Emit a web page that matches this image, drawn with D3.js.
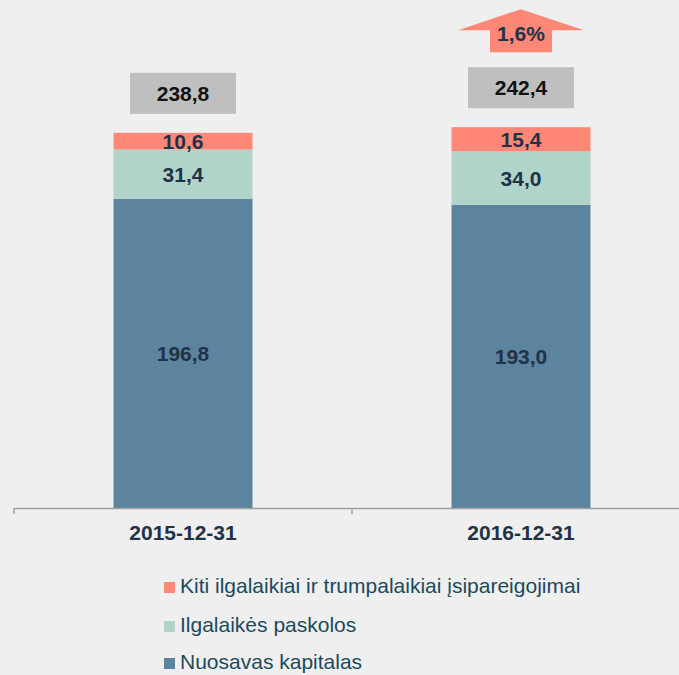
<!DOCTYPE html>
<html>
<head>
<meta charset="utf-8">
<script src="https://cdn.jsdelivr.net/npm/d3@7"></script>
<style>
  body { margin: 0; background: #efefef; }
  svg { display: block; font-family: "Liberation Sans", Arial, sans-serif; }
</style>
</head>
<body>
<div id="chart"></div>
<script>
// data
var dates = ["2015-12-31", "2016-12-31"];
var seriesNames = ["Nuosavas kapitalas", "Ilgalaikės paskolos", "Kiti ilgalaikiai ir trumpalaikiai įsipareigojimai"];
var equity = [196.8, 193.0];
var loans = [31.4, 34.0];
var other = [10.6, 15.4];
var totals = [238.8, 242.4];
var growth = "1,6%";

var colors = ["#5d849e", "#b0d3ca", "#ff8776"];
var width = 679, height = 675;

var fmt = function(v){ return v.toFixed(1).replace(".", ","); };

var svg = d3.select("#chart").append("svg")
    .attr("width", width)
    .attr("height", height);

var x = d3.scaleBand().domain(dates).range([14, 690]).paddingInner(0).paddingOuter(0);
var bw = 139;
var y = d3.scaleLinear().domain([0, 300]).range([508, 36.7]);

var rows = dates.map(function(d, i){
    return { date: d, s0: equity[i], s1: loans[i], s2: other[i] };
});
var stack = d3.stack().keys(["s0", "s1", "s2"])(rows);

var g = svg.append("g");
stack.forEach(function(layer, k){
    g.selectAll(".seg" + k)
        .data(layer)
        .enter().append("rect")
        .attr("x", function(d){ return x(d.data.date) + (x.bandwidth() - bw) / 2; })
        .attr("width", bw)
        .attr("y", function(d){ return y(d[1]); })
        .attr("height", function(d){ return y(d[0]) - y(d[1]); })
        .attr("fill", colors[k]);
    g.selectAll(".lab" + k)
        .data(layer)
        .enter().append("text")
        .attr("x", function(d){ return x(d.data.date) + x.bandwidth() / 2; })
        .attr("y", function(d){ return (y(d[0]) + y(d[1])) / 2; })
        .attr("dy", "0.36em")
        .attr("text-anchor", "middle")
        .attr("font-size", 21)
        .attr("font-weight", "bold")
        .attr("fill", "#1e3348")
        .text(function(d){ return fmt(d[1] - d[0]); });
});

// totals boxes
dates.forEach(function(d, i){
    var cx = x(d) + x.bandwidth() / 2;
    var bottom = y(totals[i]) - 19;
    svg.append("rect")
        .attr("x", cx - 53).attr("y", bottom - 41)
        .attr("width", 106).attr("height", 41)
        .attr("fill", "#bfbfbf");
    svg.append("text")
        .attr("x", cx).attr("y", bottom - 20.5)
        .attr("dy", "0.36em")
        .attr("text-anchor", "middle")
        .attr("font-size", 21).attr("font-weight", "bold")
        .attr("fill", "#111")
        .text(fmt(totals[i]));
});

// growth arrow
var ax = x(dates[1]) + x.bandwidth() / 2;
var arrowBottom = y(totals[1]) - 19 - 41 - 15;
svg.append("path")
    .attr("d", d3.line()([
        [ax - 31, arrowBottom], [ax - 31, arrowBottom - 22], [ax - 63, arrowBottom - 22],
        [ax, arrowBottom - 43], [ax + 63, arrowBottom - 22], [ax + 31, arrowBottom - 22],
        [ax + 31, arrowBottom]
    ]) + "Z")
    .attr("fill", "#ff8776");
svg.append("text")
    .attr("x", ax).attr("y", arrowBottom - 11)
    .attr("text-anchor", "middle")
    .attr("font-size", 21).attr("font-weight", "bold")
    .attr("fill", "#1e3348")
    .text(growth);

// x axis
var axis = svg.append("g")
    .attr("transform", "translate(0,508)")
    .call(d3.axisBottom(x).tickSize(0).tickPadding(17));
axis.select(".domain").attr("stroke", "#a0a0a0").attr("stroke-width", 1.5);
axis.selectAll("text")
    .attr("font-size", 21).attr("font-weight", "bold")
    .attr("fill", "#1e3348").attr("font-family", "Liberation Sans, Arial, sans-serif");
axis.selectAll(".sep")
    .data([14, 352])
    .enter().append("line")
    .attr("x1", function(d){ return d; }).attr("x2", function(d){ return d; })
    .attr("y1", 0).attr("y2", 6)
    .attr("stroke", "#a0a0a0").attr("stroke-width", 1.5);

// legend
var legendOrder = [2, 1, 0];
var lg = svg.append("g").attr("transform", "translate(164,0)");
var ly = [593, 632, 669];
legendOrder.forEach(function(k, i){
    lg.append("rect")
        .attr("x", 0).attr("y", ly[i] - 11)
        .attr("width", 11).attr("height", 11)
        .attr("fill", colors[k]);
    lg.append("text")
        .attr("x", 16).attr("y", ly[i])
        .attr("font-size", 21)
        .attr("fill", "#1b4a5c")
        .text(seriesNames[k]);
});
</script>
</body>
</html>
